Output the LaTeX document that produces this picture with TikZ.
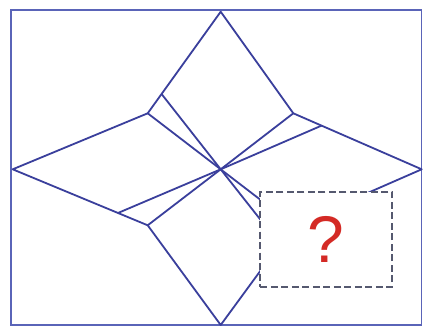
\documentclass[tikz,border=0pt]{standalone}
\usepackage{fontspec}
\newfontfamily\qfont{Liberation Sans}
\usepackage{tikz}
\usetikzlibrary{calc}
\definecolor{navyx}{HTML}{3A3F9C}
\definecolor{framex}{HTML}{5A64B8}
\definecolor{greyx}{HTML}{55596F}
\definecolor{redq}{HTML}{D42A25}
\tikzset{
  edge/.style={navyx,line width=1.8pt,line join=round},
  qbox/.style={draw=greyx,line width=1.9pt,dash pattern=on 7pt off 3.5pt,fill=white,
    minimum width=132pt,minimum height=95pt,inner sep=0pt}
}
\begin{document}
\begin{tikzpicture}[x=1pt,y=-1pt]
\useasboundingbox (0,0) rectangle (423,327);
\fill[white] (0,0) rectangle (423,327);
\draw[framex,line width=1.6pt] (11,10) rectangle (421.5,325);
% outer star
\coordinate (T) at (220.7,11.7); \coordinate (B) at (220.7,325);
\coordinate (L) at (12.7,169.3); \coordinate (R) at (421.7,169.3);
\coordinate (C) at (220.7,169.3);
\coordinate (P1) at (147.7,113.3); \coordinate (P2) at (293.3,113.3);
\coordinate (P3) at (147.7,225.3); \coordinate (P4) at (293.7,225.3);
\coordinate (Q1) at ($(T)!0.81!(P1)$); \coordinate (Q3) at ($(L)!0.78!(P3)$);
\coordinate (Q2) at ($(R)!0.78!(P2)$); \coordinate (Q4) at ($(B)!0.81!(P4)$);
\draw[edge] (T)--(P1)--(L)--(P3)--(B)--(P4)--(R)--(P2)--cycle;
% inner folds
\foreach \p in {P1,P2,P3,P4,Q1,Q2,Q3,Q4}
  \draw[edge] (C)--(\p);
% hidden part
\node[qbox] (qm) at (326.3,239.2) {\qfont\fontsize{66}{66}\selectfont\color{redq}?};
\end{tikzpicture}
\end{document}
